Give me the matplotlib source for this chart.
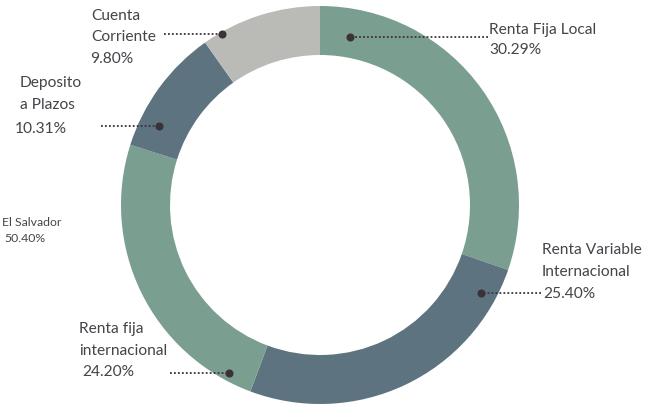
import matplotlib
matplotlib.use("Agg")
import matplotlib.pyplot as plt

# ---- data ----
categories = ["Renta Fija Local", "Renta Variable Internacional", "Renta fija internacional",
              "Deposito a Plazos", "Cuenta Corriente"]
values = [30.29, 25.40, 24.20, 10.31, 9.80]
colors = ["#7a9e8f", "#5e7380", "#7a9e8f", "#5e7380", "#babbb6"]
extra_label = ["El Salvador", "50.40%"]

W, H = 655, 405
TXT = "#48434a"
plt.rcParams['font.family'] = ['Lato', 'DejaVu Sans']

fig = plt.figure(figsize=(W / 100, H / 100), dpi=100)
ax = fig.add_axes([0, 0, 1, 1])

def P(x, y):
    return (x, H - y)

cx, cy = P(320, 205)
ax.pie(values, colors=colors, startangle=90, counterclock=False,
       center=(cx, cy), radius=199, wedgeprops=dict(width=49, linewidth=0))

ax.set_xlim(0, W)
ax.set_ylim(0, H)
ax.set_aspect('equal')
ax.axis('off')

fs = 11.2

def leader(dot, start):
    x0, y0 = P(*start)
    x1, y1 = P(*dot)
    ax.plot([x0, x1], [y0, y1], color="#3a3238", lw=1.3, ls=(0, (1, 1.2)), solid_capstyle='butt', zorder=5)
    ax.plot([x1], [y1], 'o', color="#3a3238", ms=4.8, zorder=6)

def lines(x, ys, texts, size=fs):
    for y, t in zip(ys, texts):
        ax.text(*P(x, y), t, fontsize=size, color=TXT, ha='left', va='center')

fmt = lambda v: f"{v:.2f}%"

# Renta Fija Local
leader((350, 37), (488, 37))
lines(489, [30, 50], ["Renta Fija Local", fmt(values[0])])
# Renta Variable Internacional
leader((481, 293), (541, 293))
lines(542, [250, 272], ["Renta Variable", "Internacional"])
lines(543, [294], [fmt(values[1])])
# Renta fija internacional
leader((229, 373), (170, 373))
lines(79, [329, 351], ["Renta fija", "internacional"])
lines(82, [372], [fmt(values[2])])
# Deposito a Plazos
leader((159, 126), (101, 126))
lines(20, [83, 105], ["Deposito", "a Plazos"])
lines(15, [129], [fmt(values[3])])
# Cuenta Corriente
leader((222, 34), (164, 34))
lines(91, [16, 37], ["Cuenta", "Corriente"])
lines(90, [59], [fmt(values[4])])
# El Salvador
lines(2, [222], [extra_label[0]], size=8.8)
lines(4, [239], [extra_label[1]], size=8.8)

fig.savefig("out.png", dpi=100)
